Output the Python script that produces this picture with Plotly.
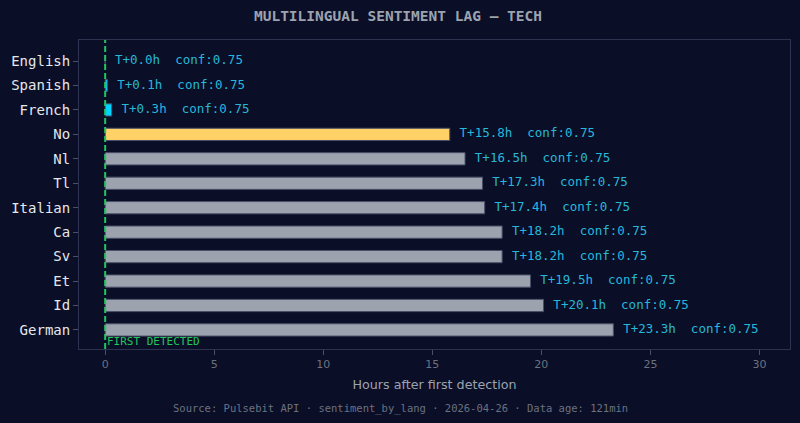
import plotly.graph_objects as go

languages = ["English", "Spanish", "French", "No", "Nl", "Tl", "Italian", "Ca", "Sv", "Et", "Id", "German"]
lag_hours = [0.0, 0.1, 0.3, 15.8, 16.5, 17.3, 17.4, 18.2, 18.2, 19.5, 20.1, 23.3]
confidence = [0.75] * 12
bar_colors = ["#00d4ff", "#00d4ff", "#00d4ff", "#ffd166", "#9ca3af", "#9ca3af", "#9ca3af",
              "#9ca3af", "#9ca3af", "#9ca3af", "#9ca3af", "#9ca3af"]
x_ticks = [0, 5, 10, 15, 20, 25, 30]

BG = "#0a0e27"
MONO = "DejaVu Sans Mono"

labels = [f"T+{h:.1f}h  conf:{c:.2f}" for h, c in zip(lag_hours, confidence)]

fig = go.Figure()
fig.add_trace(go.Bar(
    x=lag_hours, y=languages, orientation="h",
    marker=dict(color=bar_colors, line=dict(color="#4b5068", width=1)),
    width=0.5, hoverinfo="skip", showlegend=False,
))
fig.add_trace(go.Scatter(
    x=[h + 0.45 for h in lag_hours], y=languages, mode="text",
    text=labels, textposition="middle right",
    textfont=dict(family=MONO, size=12.5, color="#26b8da"),
    hoverinfo="skip", showlegend=False,
))

fig.add_shape(type="line", x0=0, x1=0, xref="x", y0=0, y1=1, yref="paper",
              line=dict(color="#22c55e", width=2, dash="6px,3px"), layer="above")
fig.add_annotation(x=0, xref="x", y=0, yref="paper", text="FIRST DETECTED",
                   showarrow=False, xanchor="left", yanchor="bottom", yshift=-1,
                   font=dict(family=MONO, size=11, color="#22c55e"))

fig.update_layout(
    width=800, height=423,
    paper_bgcolor=BG, plot_bgcolor=BG,
    margin=dict(l=79, r=10, t=40, b=74),
    title=dict(text="<b>MULTILINGUAL SENTIMENT LAG — TECH</b>", x=0.4975, xanchor="center",
               y=0.962, yanchor="middle",
               font=dict(family=MONO, size=14.5, color="#9ca3af")),
    bargap=0.5,
)
fig.update_xaxes(
    range=[-1.2, 31.4], tickvals=x_ticks, showgrid=False, zeroline=False,
    showline=True, linecolor="#2d3250", mirror=True, linewidth=1,
    ticks="outside", ticklen=5, tickcolor="#4b5068",
    tickfont=dict(family="DejaVu Sans", size=11, color="#6b7280"),
    title=dict(text="Hours after first detection", standoff=9,
               font=dict(family="DejaVu Sans", size=12.7, color="#9ca3af")),
)
fig.update_yaxes(
    categoryorder="array", categoryarray=languages,
    range=[11.78, -0.86], showgrid=False, zeroline=False,
    showline=True, linecolor="#2d3250", mirror=True, linewidth=1,
    ticks="outside", ticklen=5, tickcolor="#4b5068",
    tickfont=dict(family=MONO, size=14, color="#e5e7eb"),
)
fig.add_annotation(x=0.4515, xref="paper", y=-0.191, yref="paper", yanchor="middle",
                   xanchor="center",
                   text="Source: Pulsebit API · sentiment_by_lang · 2026-04-26 · Data age: 121min",
                   showarrow=False, font=dict(family=MONO, size=10.5, color="#6b7280"))

fig.write_html("out.html")
